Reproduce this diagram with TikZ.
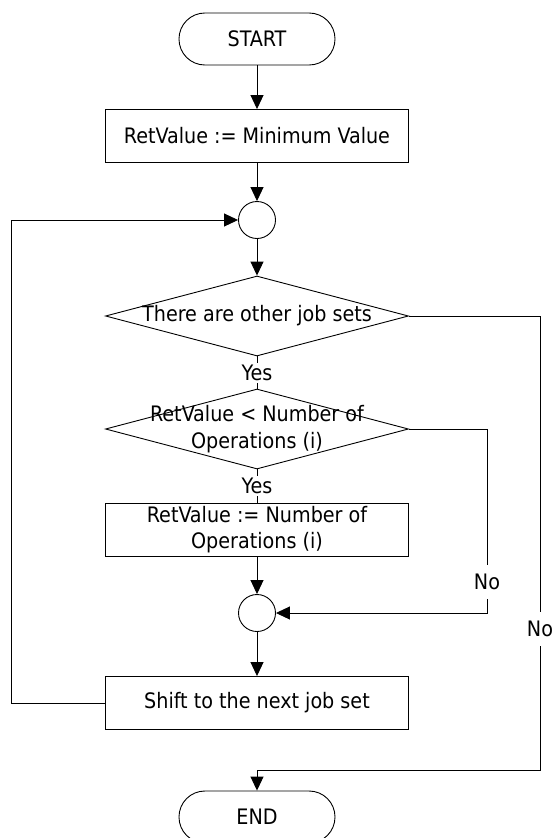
\documentclass[tikz,border=0pt]{standalone}
\usepackage{fontspec}
\setmainfont{DejaVu Sans Condensed}
\usetikzlibrary{arrows.meta,shapes.geometric}

\begin{document}
\begin{tikzpicture}[x=1pt,y=-1pt,
  every node/.style={font=\fontsize{21.3}{26.5}\selectfont},
  flow/.style={line width=0.9pt, draw=black},
  arr/.style={flow, -{Triangle[length=14pt,width=13pt]}},
  terminal/.style={draw, line width=0.9pt, rounded corners=25.9pt,
    minimum width=156pt, minimum height=52pt, inner sep=0pt},
  process/.style={draw, line width=0.9pt, minimum width=303pt,
    minimum height=53pt, inner sep=0pt, align=center},
  decision/.style={draw, line width=0.9pt, shape=diamond,
    minimum width=303pt, minimum height=80pt, inner sep=0pt},
  junction/.style={draw, line width=0.9pt, circle, minimum size=37pt, inner sep=0pt},
  tag/.style={fill=white, inner xsep=2pt, inner ysep=2pt},
  notag/.style={fill=white, inner xsep=2pt, inner ysep=9pt}
]
\useasboundingbox (0,0) rectangle (553,838);
\clip (0,0) rectangle (553,838);
\fill[white] (0,0) rectangle (553,838);

% flowchart blocks
\node[terminal] (start) at (257,39) {START};
\node[process]  (init)  at (257,136) {RetValue := Minimum Value};
\node[junction] (j1)    at (257,220) {};
\node[decision] (more)  at (257,316) {};
\node (moretext) at (more) {There are other job sets};
\node[decision] (cmp)   at (257,429) {};
\node[align=center] (cmptext) at (cmp) {RetValue < Number of\\Operations (i)};
\node[process]  (set)   at (257,529.5) {RetValue := Number of\\Operations (i)};
\node[junction] (j2)    at (257,613) {};
\node[process]  (shift) at (257,703) {Shift to the next job set};
\node[terminal] (stop)  at (257,817) {END};

% bend points
\coordinate (cmpR)  at (487,429);
\coordinate (cmpRd) at (487,613);
\coordinate (moreR) at (540,316);
\coordinate (moreRd) at (540,770);
\coordinate (endIn) at (257,770);
\coordinate (loopB) at (11,703);
\coordinate (loopT) at (11,220);

% connectors
\draw[arr] (start) -- (init);
\draw[arr] (init) -- (j1);
\draw[arr] (j1) -- (more);
\draw[flow] (more.south) -- (cmp.north);
\draw[flow] (cmp.south) -- (set.north);
\draw[arr] (set) -- (j2);
\draw[arr] (j2) -- (shift);
\draw[arr] (cmp.east) -- (cmpR) -- (cmpRd) -- (j2.east);
\draw[arr] (more.east) -- (moreR) -- (moreRd) -- (endIn) -- (stop.north);
\draw[arr] (shift.west) -- (loopB) -- (loopT) -- (j1.west);

% branch labels
\node[tag] (yes1) at (257,373) {Yes};
\node[tag] (yes2) at (257,486) {Yes};
\node[notag] (no1) at (487,582) {No};
\node[notag] (no2) at (540,629) {No};
\end{tikzpicture}
\end{document}
